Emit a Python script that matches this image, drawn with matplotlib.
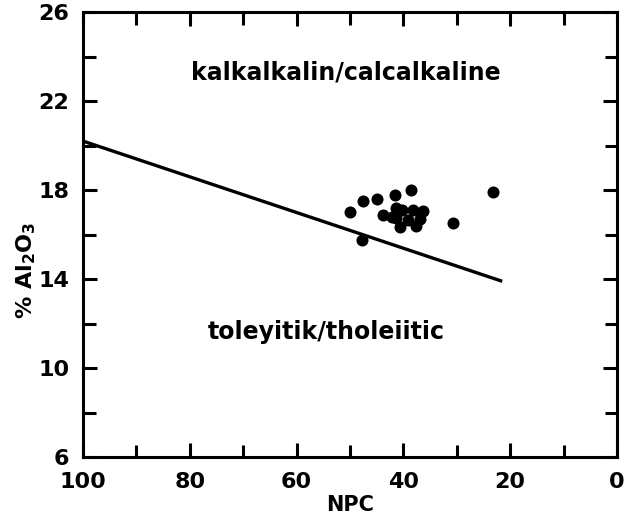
import matplotlib
matplotlib.use("Agg")
import matplotlib.pyplot as plt
from matplotlib.ticker import MultipleLocator

# NPC vs Al2O3 for the sampled lavas
npc = [50.1, 47.6, 44.9, 41.5, 38.5, 47.8, 43.8, 41.3, 40.3, 38.3,
       36.3, 40.6, 37.7, 41.3, 39.1, 36.9, 42.2, 30.8, 23.2]
al2o3 = [17.0, 17.5, 17.6, 17.8, 18.0, 15.75, 16.9, 17.2, 17.1, 17.1,
         17.05, 16.35, 16.4, 16.75, 16.65, 16.7, 16.8, 16.5, 17.9]

# calc-alkaline / tholeiitic divide
divide_npc = [100, 21.5]
divide_al = [20.2, 13.9]

x_ticks = [100, 80, 60, 40, 20, 0]
y_ticks = [6, 10, 14, 18, 22, 26]

plt.rcParams['font.family'] = ['DejaVu Sans']
plt.rcParams['font.weight'] = 'bold'

fig = plt.figure(figsize=(6.29, 5.23), dpi=100)
ax = fig.add_axes([0.132, 0.126, 0.849, 0.851])

ax.plot(divide_npc, divide_al, color='black', lw=2.4, solid_capstyle='butt')
ax.scatter(npc, al2o3, s=75, color='black', zorder=3, linewidths=0)

ax.text(50.75, 23.3, 'kalkalkalin/calcalkaline', ha='center', va='center',
        fontsize=17, fontweight='bold')
ax.text(54.5, 11.6, 'toleyitik/tholeiitic', ha='center', va='center',
        fontsize=17, fontweight='bold')

ax.set_xlim(100, 0)
ax.set_ylim(6, 26)
ax.set_xticks(x_ticks)
ax.set_yticks(y_ticks)
ax.xaxis.set_minor_locator(MultipleLocator(10))
ax.yaxis.set_minor_locator(MultipleLocator(2))

ax.tick_params(which='both', direction='in', top=True, right=True,
               width=2.2, labelsize=16)
ax.tick_params(which='major', length=10)
ax.tick_params(which='minor', length=9)
ax.tick_params(axis='x', which='major', pad=11)
ax.tick_params(axis='y', which='major', pad=10)
for lab in ax.get_xticklabels() + ax.get_yticklabels():
    lab.set_fontweight('bold')

for sp in ax.spines.values():
    sp.set_linewidth(2.2)

ax.set_xlabel('NPC', fontsize=15, fontweight='bold', labelpad=2)
ax.set_ylabel('% Al$_2$O$_3$', fontsize=16, fontweight='bold')
ax.yaxis.set_label_coords(-0.085, 0.42)

fig.savefig('out.png', dpi=100)
